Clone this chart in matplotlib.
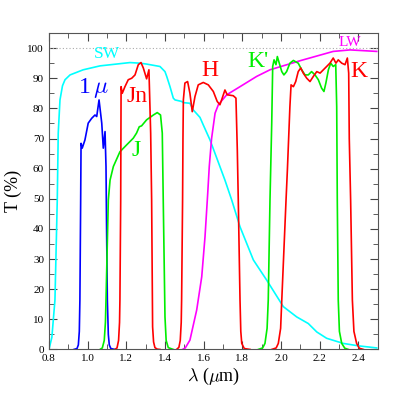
import matplotlib
matplotlib.use("Agg")
import matplotlib.pyplot as plt
from matplotlib.ticker import MultipleLocator

plt.rcParams['font.family'] = ['Liberation Serif', 'DejaVu Serif']
plt.rcParams['mathtext.fontset'] = 'cm'

# filter curves: wavelength (um), transmission (%)
sw_x = [0.80, 0.815, 0.831, 0.843, 0.848, 0.857, 0.870, 0.883, 0.909, 0.977, 1.064, 1.219, 1.271, 1.305,
        1.374, 1.40, 1.409, 1.426, 1.443, 1.452, 1.486, 1.495, 1.529, 1.546, 1.581, 1.598, 1.633,
        1.684, 1.710, 1.745, 1.788, 1.857, 1.926, 2.012, 2.081, 2.141, 2.185, 2.236, 2.322, 2.40, 2.495]
sw_y = [0.0, 4.0, 16.4, 49.6, 71.8, 82.8, 87.5, 89.5, 91.1, 92.8, 94.1, 95.2, 95.0, 94.7,
        93.9, 92.2, 90.6, 87.2, 83.4, 82.8, 82.3, 81.9, 81.7, 79.5, 77.0, 74.5, 69.5,
        60.7, 56.2, 49.6, 40.7, 29.7, 23.0, 14.2, 10.8, 8.6, 5.8, 3.7, 2.0, 1.2, 0.5]

lw_x = [1.491, 1.505, 1.529, 1.564, 1.590, 1.607, 1.621, 1.629, 1.641, 1.659, 1.676, 1.719,
        1.788, 1.874, 1.943, 2.098, 2.270, 2.357, 2.495]
lw_y = [0.0, 0.5, 3.1, 13.1, 24.1, 37.4, 51.8, 60.7, 70.0, 78.4, 81.2, 84.5,
        87.2, 90.6, 92.8, 95.8, 98.9, 99.4, 98.9]

one_x = [0.929, 0.945, 0.952, 0.957, 0.960, 0.964, 0.966, 0.972, 0.986, 1.003, 1.021, 1.038, 1.047, 1.059,
         1.073, 1.081, 1.090, 1.095, 1.098, 1.102, 1.107, 1.112, 1.120, 1.141]
one_y = [0.0, 0.3, 1.5, 6.0, 16.4, 49.6, 68.4, 66.8, 69.5, 75.1, 76.7, 77.8, 77.3, 82.8,
         75.1, 66.8, 72.3, 60.7, 40.0, 16.4, 5.0, 1.5, 0.3, 0.0]

jn_x = [1.141, 1.152, 1.160, 1.165, 1.167, 1.171, 1.173, 1.179, 1.193, 1.210, 1.228, 1.245, 1.262, 1.276,
        1.288, 1.305, 1.317, 1.326, 1.331, 1.336, 1.341, 1.348, 1.360, 1.374]
jn_y = [0.0, 0.5, 3.0, 9.0, 16.4, 49.6, 87.2, 85.0, 87.2, 89.5, 90.0, 91.1, 94.5, 95.2,
        93.4, 89.8, 92.8, 71.8, 49.6, 7.5, 2.5, 0.6, 0.1, 0.0]

j_x = [1.064, 1.076, 1.086, 1.092, 1.095, 1.107, 1.116, 1.133, 1.167, 1.202, 1.236, 1.253, 1.267, 1.279,
       1.305, 1.340, 1.360, 1.377, 1.386, 1.391, 1.400, 1.406, 1.417, 1.443]
j_y = [0.0, 0.5, 3.0, 9.0, 16.4, 49.6, 56.2, 60.7, 65.6, 67.9, 70.1, 71.8, 73.9, 74.2,
       76.2, 77.8, 78.6, 77.8, 71.8, 49.6, 10.8, 3.0, 0.6, 0.0]

h_x = [1.460, 1.472, 1.479, 1.484, 1.486, 1.491, 1.493, 1.495, 1.503, 1.517, 1.529, 1.541, 1.555, 1.572,
       1.598, 1.624, 1.650, 1.670, 1.684, 1.696, 1.710, 1.722, 1.753, 1.767, 1.774, 1.779,
       1.788, 1.792, 1.797, 1.810, 1.84]
h_y = [0.0, 0.7, 3.0, 9.0, 16.4, 49.6, 70.0, 82.8, 88.4, 88.9, 85.0, 78.9, 83.9, 87.8,
       88.6, 87.8, 85.6, 82.3, 81.2, 83.4, 86.1, 84.5, 84.2, 83.4, 66.2, 49.6,
       16.4, 6.0, 2.0, 0.3, 0.0]

kp_x = [1.883, 1.905, 1.917, 1.928, 1.934, 1.943, 1.952, 1.957, 1.964, 1.974, 1.981, 1.991, 2.004, 2.015,
        2.029, 2.046, 2.064, 2.089, 2.107, 2.124, 2.141, 2.158, 2.176, 2.193, 2.210, 2.222,
        2.232, 2.245, 2.257, 2.270, 2.283, 2.288, 2.291, 2.296, 2.302, 2.314, 2.330, 2.348]
kp_y = [0.0, 0.5, 2.0, 7.0, 16.4, 49.6, 75.1, 93.9, 96.1, 94.5, 97.2, 95.0, 92.2, 91.1,
        92.2, 95.0, 95.9, 95.0, 92.8, 91.1, 91.1, 92.2, 91.1, 89.5, 86.7, 85.6,
        88.4, 92.8, 95.0, 93.9, 94.5, 80.6, 49.6, 16.4, 6.0, 2.0, 0.4, 0.0]

k_x = [1.952, 1.975, 1.986, 1.998, 2.004, 2.026, 2.033, 2.046, 2.052, 2.064, 2.076, 2.089, 2.102, 2.115,
       2.133, 2.150, 2.167, 2.185, 2.202, 2.219, 2.236, 2.253, 2.270, 2.284, 2.296, 2.314,
       2.331, 2.343, 2.350, 2.353, 2.360, 2.369, 2.377, 2.391, 2.405, 2.426]
k_y = [0.0, 0.5, 2.0, 7.0, 16.4, 49.6, 59.6, 80.6, 87.8, 87.2, 88.9, 92.2, 93.4, 91.7,
       90.0, 88.9, 90.6, 92.2, 91.7, 92.8, 93.9, 95.0, 96.7, 95.0, 96.1, 95.0,
       94.5, 96.7, 91.7, 70.0, 49.6, 16.4, 6.0, 2.0, 0.4, 0.0]

fig = plt.figure(figsize=(3.98, 3.98), dpi=100)
ax = fig.add_axes([0.123, 0.122, 0.826, 0.795])

ax.axhline(100, color='#aaaaaa', lw=0.8, ls=(0, (1, 2)))

ax.plot(sw_x, sw_y, color='#00ffff', lw=1.2)
ax.plot(lw_x, lw_y, color='#ff00ff', lw=1.2)
ax.plot(one_x, one_y, color='#0000ff', lw=1.2)
ax.plot(j_x, j_y, color='#00ee00', lw=1.2)
ax.plot(jn_x, jn_y, color='#ff0000', lw=1.2)
ax.plot(h_x, h_y, color='#ff0000', lw=1.2)
ax.plot(kp_x, kp_y, color='#00ee00', lw=1.2)
ax.plot(k_x, k_y, color='#ff0000', lw=1.2)

ax.text(1.098, 98.2, 'SW', color='#00ffff', fontsize=12.5, ha='center', va='center')
ax.text(2.357, 101.9, 'LW', color='#ff00ff', fontsize=11, ha='center', va='center')
ax.text(1.029, 86.7, r'1$\,\mu$', color='#0000ff', fontsize=17, ha='center', va='center')
ax.text(1.257, 84.0, 'Jn', color='#ff0000', fontsize=17, ha='center', va='center')
ax.text(1.249, 66.0, 'J', color='#00ee00', fontsize=17, ha='center', va='center')
ax.text(1.634, 92.6, 'H', color='#ff0000', fontsize=17, ha='center', va='center')
ax.text(1.881, 95.7, "K'", color='#00ee00', fontsize=17, ha='center', va='center')
ax.text(2.403, 92.2, 'K', color='#ff0000', fontsize=17, ha='center', va='center')

ax.set_xlim(0.8, 2.5)
ax.set_ylim(0, 105)
ax.xaxis.set_major_locator(MultipleLocator(0.2))
ax.xaxis.set_minor_locator(MultipleLocator(0.1))
ax.yaxis.set_major_locator(MultipleLocator(10))
ax.yaxis.set_minor_locator(MultipleLocator(5))
ax.tick_params(which='both', direction='in', top=True, right=True, colors='#444444',
               labelcolor='black', labelsize=8)
ax.tick_params(which='major', length=6)
ax.tick_params(which='minor', length=3.5)
for s in ax.spines.values():
    s.set_color('#555555')

ax.set_xlabel(r'$\lambda$ ($\mu$m)', fontsize=13, labelpad=2)
ax.set_ylabel('T (%)', fontsize=13, labelpad=4)

fig.savefig('out.png', dpi=100)
